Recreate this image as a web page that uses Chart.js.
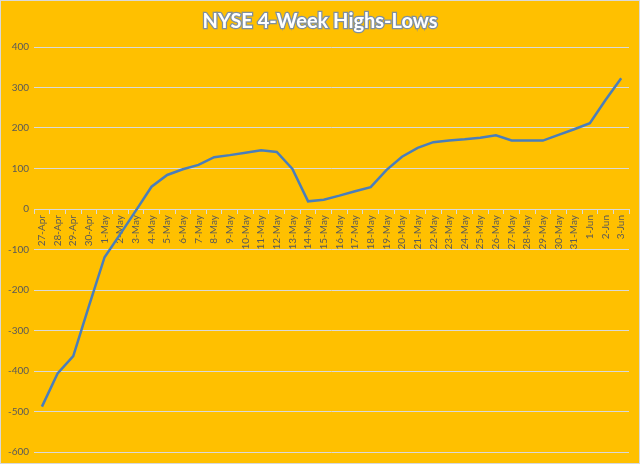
<!DOCTYPE html>
<html>
<head>
<meta charset="utf-8">
<script src="https://cdn.jsdelivr.net/npm/chart.js@4/dist/chart.umd.min.js"></script>
<style>
  html, body { margin: 0; padding: 0; background: #FFC000; }
  #wrap { width: 638px; height: 462px; border: 1px solid #D9D9D9; }
</style>
</head>
<body>
<div id="wrap"><canvas id="nyseChart" width="638" height="462"></canvas></div>
<script>
// Dates on the category axis
const dates = [
    '27-Apr', '28-Apr', '29-Apr', '30-Apr',
    '1-May', '2-May', '3-May', '4-May', '5-May', '6-May', '7-May', '8-May', '9-May', '10-May',
    '11-May', '12-May', '13-May', '14-May', '15-May', '16-May', '17-May', '18-May', '19-May', '20-May',
    '21-May', '22-May', '23-May', '24-May', '25-May', '26-May', '27-May', '28-May', '29-May', '30-May',
    '31-May', '1-Jun', '2-Jun', '3-Jun'
];

// New 4-week highs minus lows
const highsLows = [
    -488, -406, -363, -240,
    -119, -62, -4, 55, 84, 98, 109, 128, 133, 139,
    145, 141, 99, 19, 23, 33, 44, 54, 96, 129,
    151, 165, 169, 172, 176, 182, 169, 169, 169, 183,
    197, 212, 269, 323
];

const yTicks = { min: -600, max: 400, step: 100 };

// Title drawn with an outline like the Excel WordArt style
const outlinedTitle = {
    id: 'outlinedTitle',
    afterDraw(chart) {
        const ctx = chart.ctx;
        ctx.save();
        ctx.font = 'bold 20px Lato, "Open Sans", sans-serif';
        ctx.textAlign = 'center';
        ctx.textBaseline = 'middle';
        ctx.lineWidth = 2.5;
        ctx.strokeStyle = '#7F8FA0';
        ctx.strokeText('NYSE 4-Week Highs-Lows', 319, 21);
        ctx.fillStyle = '#FFFFFF';
        ctx.fillText('NYSE 4-Week Highs-Lows', 319, 21);
        ctx.restore();
    }
};

const ctx = document.getElementById('nyseChart').getContext('2d');
new Chart(ctx, {
    type: 'line',
    data: {
        labels: dates,
        datasets: [{
            data: highsLows,
            borderColor: '#4A7EBB',
            borderWidth: 2.5,
            pointRadius: 0,
            tension: 0,
            fill: false
        }]
    },
    options: {
        responsive: false,
        animation: false,
        layout: { padding: { top: 46, left: 2, right: 10, bottom: 2 } },
        plugins: {
            legend: { display: false },
            tooltip: { enabled: false }
        },
        scales: {
            x: {
                position: { y: 0 },
                offset: true,
                grid: {
                    display: true,
                    drawOnChartArea: false,
                    drawTicks: true,
                    tickLength: 4,
                    color: '#D9D9D9',
                    offset: true
                },
                border: { display: true, color: '#D9D9D9', width: 1 },
                ticks: {
                    autoSkip: false,
                    minRotation: 90,
                    maxRotation: 90,
                    padding: 2,
                    color: '#595959',
                    font: { family: 'Lato, "Open Sans", sans-serif', size: 10 }
                }
            },
            y: {
                min: yTicks.min,
                max: yTicks.max,
                grid: {
                    color: '#D9D9D9',
                    lineWidth: 1,
                    drawTicks: false
                },
                border: { display: false },
                ticks: {
                    stepSize: yTicks.step,
                    padding: 5,
                    color: '#595959',
                    font: { family: 'Lato, "Open Sans", sans-serif', size: 10 }
                }
            }
        }
    },
    plugins: [outlinedTitle]
});
</script>
</body>
</html>
